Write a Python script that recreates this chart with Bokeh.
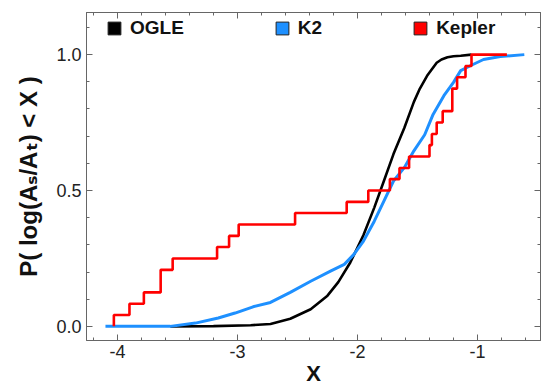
import numpy as np
from bokeh.plotting import figure
from bokeh.models import (Range1d, LinearAxis, FixedTicker, PrintfTickFormatter,
                          Legend, LegendItem, ColumnDataSource)
from bokeh.embed import file_html
from bokeh.resources import INLINE

# ---------------- data ----------------
ogle_x = [-3.56, -3.20, -2.89, -2.725, -2.56, -2.39, -2.25, -2.16, -2.06, -1.95,
          -1.86, -1.78, -1.70, -1.61, -1.53, -1.48, -1.42, -1.34, -1.30, -1.25,
          -1.20, -1.14, -1.05]
ogle_p = [0.0, 0.001, 0.004, 0.009, 0.028, 0.063, 0.113, 0.163, 0.235, 0.336,
          0.437, 0.535, 0.634, 0.730, 0.826, 0.875, 0.922, 0.970, 0.982, 0.990,
          0.994, 0.996, 1.0]

k2_x = [-4.10, -3.56, -3.35, -3.16, -3.02, -2.87, -2.725, -2.56, -2.39, -2.225,
        -2.11, -2.03, -1.95, -1.86, -1.78, -1.70, -1.61, -1.53, -1.44, -1.37,
        -1.28, -1.20, -1.14, -1.06, -0.95, -0.81, -0.61]
k2_p = [0.0, 0.0, 0.012, 0.031, 0.049, 0.072, 0.088, 0.125, 0.166, 0.203,
        0.228, 0.265, 0.314, 0.387, 0.461, 0.535, 0.584, 0.646, 0.705, 0.780,
        0.849, 0.898, 0.941, 0.959, 0.982, 0.993, 1.0]

kepler_x = [-4.03, -3.90, -3.78, -3.64, -3.54, -3.17, -3.07, -2.99, -2.52, -2.09,
            -1.91, -1.73, -1.65, -1.57, -1.40, -1.38, -1.34, -1.29, -1.21, -1.17,
            -1.10, -1.05, -0.755]
kepler_p = [0.042, 0.083, 0.125, 0.208, 0.250, 0.292, 0.333, 0.375, 0.417, 0.458,
            0.500, 0.542, 0.583, 0.625, 0.667, 0.708, 0.750, 0.792, 0.875, 0.917,
            0.958, 1.000, 1.000]

series_names = ["OGLE", "K2", "Kepler"]
x_major = [-4, -3, -2, -1]
y_major = [0.0, 0.5, 1.0]
x_title = "X"
y_title = "P( log(Aₛ/Aₜ) < X )"

# ---------------- style ----------------
FONT = "'Liberation Sans', Arial, Helvetica, 'DejaVu Sans', sans-serif"
AX = "#666666"
BLACK, BLUE, RED = "#000000", "#1E90FF", "#FF0000"

p = figure(width=541, height=388, output_backend="svg", toolbar_location=None,
           x_range=Range1d(-4.258, -0.475), y_range=Range1d(-0.052, 1.155),
           min_border_left=86, min_border_right=1, min_border_top=12,
           min_border_bottom=46, background_fill_color="white",
           border_fill_color="white")
p.grid.visible = False
p.outline_line_color = AX

minor_x = [float(v) for v in np.round(np.arange(-4.2, -0.55, 0.2), 1)]
minor_y = [float(v) for v in np.round(np.arange(0.0, 1.15, 0.1), 1)]


def ticks_common(ax):
    ax.axis_line_color = AX
    ax.major_tick_line_color = AX
    ax.minor_tick_line_color = AX
    ax.major_tick_in = 6
    ax.major_tick_out = 0
    ax.minor_tick_in = 3
    ax.minor_tick_out = 0


xa = p.xaxis[0]
ya = p.yaxis[0]
for ax, is_x in ((xa, True), (ya, False)):
    ticks_common(ax)
    if is_x:
        ax.ticker = FixedTicker(ticks=x_major, minor_ticks=minor_x)
        ax.formatter = PrintfTickFormatter(format="%d")
    else:
        ax.ticker = FixedTicker(ticks=y_major, minor_ticks=minor_y)
        ax.formatter = PrintfTickFormatter(format="%.1f")
    ax.major_label_text_font = FONT
    ax.major_label_text_font_size = "18px"
    ax.major_label_text_color = "#222222"
    ax.axis_label_text_font = FONT
    ax.axis_label_text_font_style = "bold"
    ax.axis_label_text_color = "#111111"

xa.axis_label = x_title
xa.axis_label_text_font_size = "22px"
xa.major_label_standoff = 4
xa.axis_label_standoff = 0
ya.axis_label = y_title
ya.axis_label_text_font_size = "24px"
ya.major_label_standoff = 5
ya.axis_label_standoff = 11

# mirrored axes (top / right) with inward ticks only, no labels
for place, is_x in (("above", True), ("right", False)):
    major_pos = x_major if is_x else y_major
    minor_pos = minor_x if is_x else minor_y
    for pos, length in ((major_pos, 6), (minor_pos, 3)):
        ax = LinearAxis(ticker=FixedTicker(ticks=[], minor_ticks=list(pos)))
        ax.axis_line_color = AX
        ax.minor_tick_line_color = AX
        ax.minor_tick_in = length
        ax.minor_tick_out = 0
        ax.major_tick_in = 0
        ax.major_tick_out = 0
        p.add_layout(ax, place)

# ---------------- curves ----------------
r_ogle = p.line(ogle_x, ogle_p, line_color=BLACK, line_width=2.6)
r_k2 = p.line(k2_x, k2_p, line_color=BLUE, line_width=3)
kep_src = ColumnDataSource(dict(x=[kepler_x[0]] + kepler_x, y=[0.0] + kepler_p))
r_kep = p.step("x", "y", source=kep_src, mode="after", line_color=RED, line_width=2.6)

# ---------------- legend (square swatches) ----------------
items = []
for name, col in zip(series_names, [BLACK, BLUE, RED]):
    sw_src = ColumnDataSource(dict(x=[np.nan], y=[np.nan]))
    sw = p.scatter("x", "y", source=sw_src, marker="square", fill_color=col,
                   line_color="#222222", line_width=1)
    items.append(LegendItem(label=name, renderers=[sw]))

leg = Legend(items=items, orientation="horizontal", location=(12, 296),
             glyph_width=32, glyph_height=32, label_standoff=0, spacing=82,
             padding=0, margin=0, border_line_color=None,
             background_fill_alpha=0, label_text_font=FONT,
             label_text_font_size="19px", label_text_font_style="bold",
             label_text_color="#111111", label_height=32)
p.add_layout(leg)

open("out.html", "w").write(file_html(p, INLINE))
